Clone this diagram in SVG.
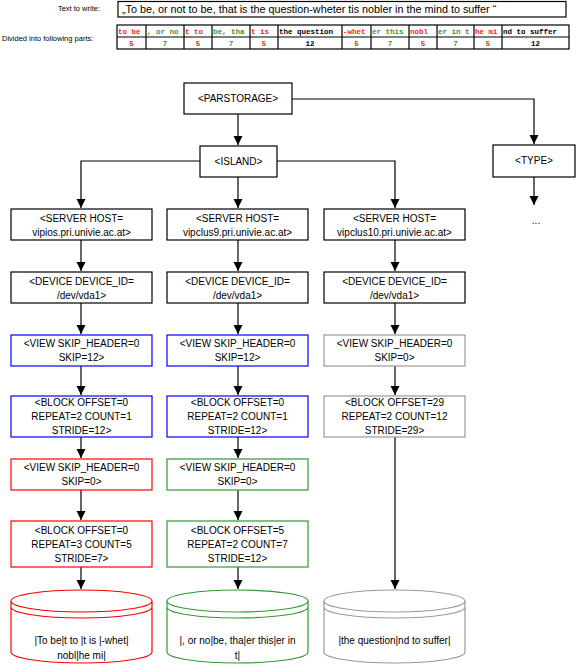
<svg xmlns="http://www.w3.org/2000/svg" width="578" height="668" viewBox="0 0 578 668">
<style>
text{font-family:"Liberation Sans",Arial,sans-serif;font-size:10px;fill:#000;text-anchor:middle}
.lbl{font-size:7.5px;text-anchor:start}
.mono{font-family:"Liberation Mono","Courier New",monospace;font-size:7.5px;font-weight:bold;text-anchor:start}
.num{font-family:"Liberation Mono","Courier New",monospace;font-size:7.5px;font-weight:bold}
.r{fill:#f22}.g{fill:#393}
.box{fill:#fff;stroke:#000;stroke-width:1.2}
.blue{stroke:#00f}.red{stroke:#f00}.green{stroke:#393}.gray{stroke:#999}
.cell{fill:#fff;stroke:#000;stroke-width:1.2}
.conn path{fill:none;stroke:#000;stroke-width:1.2}
</style>
<defs>
<marker id="arr" markerUnits="userSpaceOnUse" markerWidth="10" markerHeight="10" viewBox="0 0 10 10" refX="9" refY="5" orient="auto">
<path d="M0,0.5 L9,5 L0,9.5 Z" fill="#000"/>
</marker>
</defs>

<g id="header">
<text class="lbl" x="100" y="11" style="text-anchor:end">Text to write:</text>
<rect class="cell" x="118" y="1.5" width="448" height="15.5"/>
<text x="122" y="13" style="text-anchor:start;font-size:10.8px">„To be, or not to be, that is the question-wheter tis nobler in the mind to suffer “</text>
<text class="lbl" x="2" y="41">Divided into following parts:</text>
</g>

<g id="table">
<rect class="cell" x="117" y="25" width="452" height="24"/>
<path d="M117,37 H569 M146,25 V49 M184,25 V49 M212,25 V49 M250,25 V49 M278,25 V49 M342,25 V49 M371,25 V49 M409,25 V49 M437,25 V49 M474,25 V49 M502,25 V49" stroke="#000" stroke-width="1.2" fill="none"/>
<text class="mono r" x="118" y="34">to be</text>
<text class="mono g" x="147" y="34">, or no</text>
<text class="mono r" x="185" y="34">t to</text>
<text class="mono g" x="213" y="34">be, tha</text>
<text class="mono r" x="251" y="34">t is</text>
<text class="mono" x="279" y="34">the question</text>
<text class="mono r" x="343" y="34">-whet</text>
<text class="mono g" x="372" y="34">er this</text>
<text class="mono r" x="410" y="34">nobl</text>
<text class="mono g" x="438" y="34">er in t</text>
<text class="mono r" x="475" y="34">he mi</text>
<text class="mono" x="503" y="34">nd to suffer</text>
<text class="num r" x="131.5" y="46">5</text>
<text class="num g" x="165" y="46">7</text>
<text class="num r" x="198" y="46">5</text>
<text class="num g" x="231" y="46">7</text>
<text class="num r" x="264" y="46">5</text>
<text class="num" x="310" y="46">12</text>
<text class="num r" x="356.5" y="46">5</text>
<text class="num g" x="390" y="46">7</text>
<text class="num r" x="423" y="46">5</text>
<text class="num g" x="455.5" y="46">7</text>
<text class="num r" x="488" y="46">5</text>
<text class="num" x="535.5" y="46">12</text>
</g>

<g class="conn" id="connectors">
<path d="M238,114 V145" marker-end="url(#arr)"/>
<path d="M292,99 H534 V144" marker-end="url(#arr)"/>
<path d="M534,177 V205" marker-end="url(#arr)"/>
<path d="M200,161 H81 V208" marker-end="url(#arr)"/>
<path d="M238,177 V208" marker-end="url(#arr)"/>
<path d="M277,161 H395 V208" marker-end="url(#arr)"/>
<path d="M81,240 V271" marker-end="url(#arr)"/>
<path d="M238,240 V271" marker-end="url(#arr)"/>
<path d="M395,240 V271" marker-end="url(#arr)"/>
<path d="M81,303 V334" marker-end="url(#arr)"/>
<path d="M238,303 V334" marker-end="url(#arr)"/>
<path d="M395,303 V334" marker-end="url(#arr)"/>
<path d="M81,366 V395" marker-end="url(#arr)"/>
<path d="M238,366 V395" marker-end="url(#arr)"/>
<path d="M395,366 V395" marker-end="url(#arr)"/>
<path d="M81,437 V458" marker-end="url(#arr)"/>
<path d="M238,437 V458" marker-end="url(#arr)"/>
<path d="M395,437 V589" marker-end="url(#arr)"/>
<path d="M81,490 V520" marker-end="url(#arr)"/>
<path d="M238,490 V520" marker-end="url(#arr)"/>
<path d="M81,567 V589" marker-end="url(#arr)"/>
<path d="M238,567 V589" marker-end="url(#arr)"/>
</g>

<g id="parstorage"><rect class="box" x="184" y="83" width="108" height="31"/><text x="238" y="102">&lt;PARSTORAGE&gt;</text></g>
<g id="island"><rect class="box" x="200" y="146" width="77" height="31"/><text x="238.5" y="165">&lt;ISLAND&gt;</text></g>
<g id="type"><rect class="box" x="493" y="145" width="82" height="32"/><text x="534" y="164">&lt;TYPE&gt;</text></g>
<g id="type-more"><text x="536" y="224">...</text></g>

<g id="server1"><rect class="box" x="11" y="209" width="141" height="31"/><text x="81.5" y="221.5">&lt;SERVER HOST=</text><text x="81.5" y="235.5">vipios.pri.univie.ac.at&gt;</text></g>
<g id="server2"><rect class="box" x="167" y="209" width="141" height="31"/><text x="237.5" y="221.5">&lt;SERVER HOST=</text><text x="237.5" y="235.5">vipclus9.pri.univie.ac.at&gt;</text></g>
<g id="server3"><rect class="box" x="324" y="209" width="141" height="31"/><text x="394.5" y="221.5">&lt;SERVER HOST=</text><text x="394.5" y="235.5">vipclus10.pri.univie.ac.at&gt;</text></g>

<g id="device1"><rect class="box" x="11" y="272" width="141" height="31"/><text x="81.5" y="284.5">&lt;DEVICE DEVICE_ID=</text><text x="81.5" y="298.5">/dev/vda1&gt;</text></g>
<g id="device2"><rect class="box" x="167" y="272" width="141" height="31"/><text x="237.5" y="284.5">&lt;DEVICE DEVICE_ID=</text><text x="237.5" y="298.5">/dev/vda1&gt;</text></g>
<g id="device3"><rect class="box" x="324" y="272" width="141" height="31"/><text x="394.5" y="284.5">&lt;DEVICE DEVICE_ID=</text><text x="394.5" y="298.5">/dev/vda1&gt;</text></g>

<g id="view1"><rect class="box blue" x="11" y="335" width="141" height="31"/><text x="81.5" y="346.5">&lt;VIEW SKIP_HEADER=0</text><text x="81.5" y="360.5">SKIP=12&gt;</text></g>
<g id="view2"><rect class="box blue" x="167" y="335" width="141" height="31"/><text x="237.5" y="346.5">&lt;VIEW SKIP_HEADER=0</text><text x="237.5" y="360.5">SKIP=12&gt;</text></g>
<g id="view3"><rect class="box gray" x="324" y="335" width="141" height="31"/><text x="394.5" y="346.5">&lt;VIEW SKIP_HEADER=0</text><text x="394.5" y="360.5">SKIP=0&gt;</text></g>

<g id="block1"><rect class="box blue" x="11" y="396" width="141" height="41"/><text x="81.5" y="405.5">&lt;BLOCK OFFSET=0</text><text x="81.5" y="419.5">REPEAT=2 COUNT=1</text><text x="81.5" y="433.5">STRIDE=12&gt;</text></g>
<g id="block2"><rect class="box blue" x="167" y="396" width="141" height="41"/><text x="237.5" y="405.5">&lt;BLOCK OFFSET=0</text><text x="237.5" y="419.5">REPEAT=2 COUNT=1</text><text x="237.5" y="433.5">STRIDE=12&gt;</text></g>
<g id="block3"><rect class="box gray" x="324" y="396" width="141" height="41"/><text x="394.5" y="405.5">&lt;BLOCK OFFSET=29</text><text x="394.5" y="419.5">REPEAT=2 COUNT=12</text><text x="394.5" y="433.5">STRIDE=29&gt;</text></g>

<g id="view1b"><rect class="box red" x="11" y="459" width="141" height="31"/><text x="81.5" y="470.5">&lt;VIEW SKIP_HEADER=0</text><text x="81.5" y="484.5">SKIP=0&gt;</text></g>
<g id="view2b"><rect class="box green" x="167" y="459" width="141" height="31"/><text x="237.5" y="470.5">&lt;VIEW SKIP_HEADER=0</text><text x="237.5" y="484.5">SKIP=0&gt;</text></g>

<g id="block1b"><rect class="box red" x="11" y="521" width="141" height="46"/><text x="81.5" y="533.5">&lt;BLOCK OFFSET=0</text><text x="81.5" y="547.5">REPEAT=3 COUNT=5</text><text x="81.5" y="561.5">STRIDE=7&gt;</text></g>
<g id="block2b"><rect class="box green" x="167" y="521" width="141" height="46"/><text x="237.5" y="533.5">&lt;BLOCK OFFSET=5</text><text x="237.5" y="547.5">REPEAT=2 COUNT=7</text><text x="237.5" y="561.5">STRIDE=12&gt;</text></g>

<g id="store1">
<path class="box red" d="M11,601 A70.5,11 0 0 1 152,601 V652 A70.5,11 0 0 1 11,652 Z M11,601 A70.5,11 0 0 0 152,601 M11,607 A70.5,11 0 0 0 152,607"/>
<text x="81.5" y="644">|To be|t to |t is |-whet|</text><text x="81.5" y="659">nobl|he mi|</text>
</g>
<g id="store2">
<path class="box green" d="M167,601 A70.5,11 0 0 1 308,601 V652 A70.5,11 0 0 1 167,652 Z M167,601 A70.5,11 0 0 0 308,601 M167,607 A70.5,11 0 0 0 308,607"/>
<text x="237.5" y="644">|, or no|be, tha|er this|er in</text><text x="237.5" y="659">t|</text>
</g>
<g id="store3">
<path class="box gray" d="M324,601 A70.5,11 0 0 1 465,601 V652 A70.5,11 0 0 1 324,652 Z M324,601 A70.5,11 0 0 0 465,601 M324,607 A70.5,11 0 0 0 465,607"/>
<text x="394.5" y="644">|the question|nd to suffer|</text>
</g>
</svg>
